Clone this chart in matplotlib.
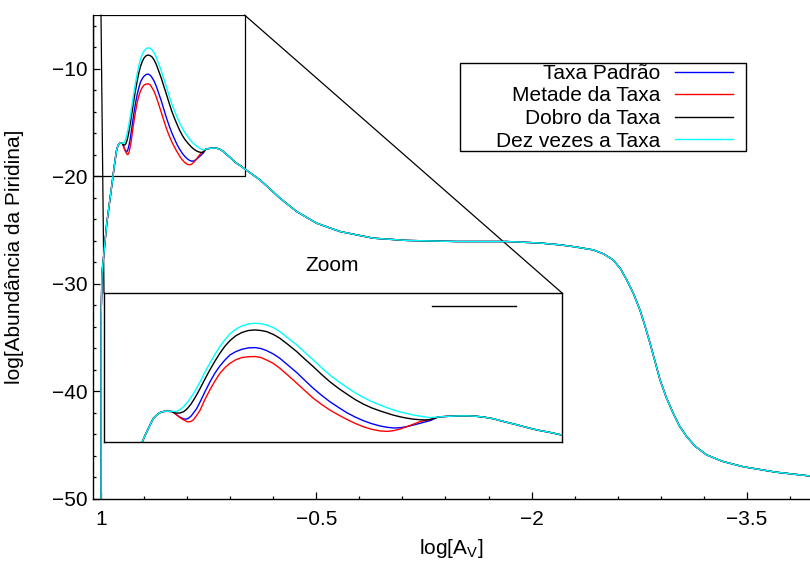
import matplotlib
matplotlib.use("Agg")
import numpy as np
import matplotlib.pyplot as plt
from matplotlib.ticker import MultipleLocator, FixedLocator
from matplotlib.lines import Line2D
from matplotlib.patches import Rectangle, ConnectionPatch
from matplotlib.path import Path

# trecho comum do inicio (subida em Av alto)
x_inicio = [1.0, 0.999, 0.993, 0.96, 0.9165, 0.910, 0.903, 0.897, 0.892, 0.885,
            0.878, 0.870, 0.863]
y_inicio = [-60.0, -33.0, -29.0, -24.4, -20.0, -19.3, -18.62, -18.05, -17.62, -17.28,
            -17.05, -16.93, -16.91]

# trecho onde as taxas se separam
x_meio = [0.852, 0.846, 0.841, 0.834, 0.826, 0.820, 0.816, 0.810, 0.805, 0.798,
          0.790, 0.780, 0.769, 0.758, 0.747, 0.736, 0.725, 0.712, 0.699, 0.685,
          0.670, 0.657, 0.645, 0.630, 0.616, 0.598, 0.579, 0.561, 0.543, 0.525,
          0.507, 0.488, 0.470, 0.452, 0.434, 0.416, 0.397, 0.382, 0.368, 0.354,
          0.339, 0.325, 0.310, 0.299, 0.288]
y_padrao = [-16.92, -17.10, -17.28, -17.50, -17.68, -17.70, -17.62, -17.40, -17.10, -16.66,
            -15.95, -14.98, -13.98, -13.08, -12.35, -11.75, -11.24, -10.90, -10.67, -10.53,
            -10.50, -10.60, -10.80, -11.15, -11.58, -12.28, -13.02, -13.82, -14.60, -15.30,
            -15.94, -16.52, -17.05, -17.48, -17.85, -18.15, -18.39, -18.52, -18.59, -18.57,
            -18.46, -18.30, -18.12, -17.98, -17.85]
y_metade = [-16.90, -17.08, -17.28, -17.55, -17.78, -17.92, -17.98, -17.93, -17.78, -17.35,
            -16.78, -15.75, -14.77, -13.88, -13.09, -12.52, -12.08, -11.72, -11.50, -11.42,
            -11.40, -11.50, -11.75, -12.10, -12.58, -13.30, -14.09, -14.85, -15.60, -16.22,
            -16.78, -17.28, -17.72, -18.12, -18.46, -18.72, -18.89, -18.93, -18.86, -18.70,
            -18.46, -18.22, -17.95, -17.83, -17.72]
y_dobro = [-16.95, -17.05, -17.10, -17.08, -16.95, -16.72, -16.52, -16.18, -15.82, -15.28,
           -14.60, -13.70, -12.76, -11.88, -11.07, -10.36, -9.80, -9.30, -8.98, -8.78,
           -8.72, -8.78, -8.89, -9.18, -9.56, -10.20, -10.91, -11.68, -12.42, -13.20,
           -13.93, -14.60, -15.17, -15.72, -16.18, -16.56, -16.88, -17.10, -17.30, -17.46,
           -17.60, -17.70, -17.76, -17.78, -17.75]
y_dez = [-16.90, -16.93, -16.92, -16.75, -16.44, -16.12, -15.90, -15.50, -15.15, -14.60,
         -13.93, -13.00, -12.08, -11.20, -10.40, -9.70, -9.12, -8.64, -8.32, -8.12,
         -8.05, -8.10, -8.22, -8.50, -8.89, -9.55, -10.24, -11.00, -11.75, -12.52,
         -13.26, -13.92, -14.50, -15.04, -15.51, -15.92, -16.28, -16.55, -16.78, -16.97,
         -17.13, -17.28, -17.40, -17.48, -17.55]

# trecho comum do final (plato e queda para Av baixo)
x_fim = [0.27, 0.25, 0.23, 0.208, 0.19, 0.17, 0.15, 0.135, 0.115, 0.10, 0.08, 0.063,
         0.045, 0.03, 0.015, 0.0, -0.108, -0.247, -0.363, -0.503, -0.665, -0.897,
         -1.13, -1.478, -1.826, -2.059, -2.198, -2.3, -2.43, -2.5, -2.569, -2.62,
         -2.663, -2.71, -2.755, -2.79, -2.825, -2.86, -2.895, -2.94, -2.987, -3.03,
         -3.081, -3.14, -3.22, -3.33, -3.475, -3.7, -3.94]
y_fim = [-17.48, -17.42, -17.38, -17.37, -17.40, -17.50, -17.66, -17.85, -18.08, -18.25,
         -18.50, -18.70, -18.88, -19.00, -19.15, -19.30, -20.33, -22.03, -23.27, -24.36,
         -25.13, -25.75, -25.96, -26.06, -26.06, -26.2, -26.37, -26.55, -26.84, -27.2,
         -27.77, -28.6, -29.63, -30.9, -32.42, -33.9, -35.5, -37.2, -38.93, -40.6,
         -42.03, -43.2, -44.2, -45.1, -45.9, -46.5, -47.0, -47.5, -47.86]

nomes = ["Taxa Padrão", "Metade da Taxa", "Dobro da Taxa", "Dez vezes a Taxa"]
cores = ["#0000ff", "#ff0000", "#000000", "#00ffff"]
meios = [y_padrao, y_metade, y_dobro, y_dez]

x_ticks = [1, -0.5, -2, -3.5]
x_tick_labels = ["1", "\u22120.5", "\u22122", "\u22123.5"]

# janela do zoom
x_zoom = [1.0, 0.0]
y_zoom = [-20.0, -5.0]


def monta_serie(y_m):
    x = np.array(x_inicio + x_meio + x_fim)
    y = np.array(y_inicio + y_m + y_fim)
    return x, y


def caixa_gnuplot(x0, y0, width, height, mutation_size):
    # moldura da legenda com folga maior a esquerda, estilo gnuplot
    esq = 1.73 * mutation_size
    dire = 0.64 * mutation_size
    vert = 0.02 * mutation_size
    xa, xb = x0 - esq, x0 + width + dire
    ya, yb = y0 - vert, y0 + height + vert
    return Path([(xa, ya), (xb, ya), (xb, yb), (xa, yb), (xa, ya)], closed=True)


plt.rcParams["font.family"] = ["Liberation Sans", "DejaVu Sans"]
plt.rcParams["mathtext.fontset"] = "custom"
plt.rcParams["mathtext.rm"] = "Liberation Sans"
plt.rcParams["mathtext.it"] = "Liberation Sans:italic"

fig = plt.figure(figsize=(8.1, 5.63), dpi=100)
ax = fig.add_axes([93 / 810, 64 / 563, 717 / 810, 484 / 563])

for nome, cor, y_m in zip(nomes, cores, meios):
    x, y = monta_serie(y_m)
    ax.plot(x, y, color=cor, lw=1.0, label=nome)

ax.set_xlim(1.0557, -3.94)
ax.set_ylim(-50, -5)
ax.spines["top"].set_visible(False)
ax.spines["right"].set_visible(False)
for s in ("left", "bottom"):
    ax.spines[s].set_linewidth(1.0)

ax.set_xticks(x_ticks)
ax.set_xticklabels(x_tick_labels)
ax.xaxis.set_minor_locator(FixedLocator(np.arange(1, -4, -0.3)))
ax.yaxis.set_major_locator(MultipleLocator(10))
ax.yaxis.set_minor_locator(MultipleLocator(2))
ax.tick_params(which="both", direction="in", width=0.9, labelsize=15)
ax.tick_params(which="major", length=5)
ax.tick_params(which="minor", length=2.5)
ax.tick_params(axis="x", pad=8)
ax.tick_params(axis="y", pad=4)

ax.set_xlabel(r"log[A$_\mathrm{V}$]", fontsize=15, labelpad=6)
ax.set_ylabel("log[Abundância da Piridina]", fontsize=15, labelpad=20)

leg = ax.legend(loc="upper right", bbox_to_anchor=(0.8922, 0.899), borderaxespad=0,
                fontsize=15, markerfirst=False, fancybox=False, framealpha=1,
                edgecolor="black", handlelength=2.77, handletextpad=0.69,
                labelspacing=0.17, borderpad=0)
leg.get_frame().set_linewidth(1.0)
leg.get_frame().set_boxstyle(caixa_gnuplot)

ax.text(-0.607, -28.33, "Zoom", fontsize=15, ha="center", va="center")

# janela ampliada
axins = ax.inset_axes([0.01534, 0.1178, 0.6388, 0.3079])
for cor, y_m in zip(cores, meios):
    x, y = monta_serie(y_m)
    axins.plot(x, y, color=cor, lw=1.0)
axins.set_xlim(x_zoom)
axins.set_ylim(y_zoom)
axins.set_xticks([])
axins.set_yticks([])
for s in axins.spines.values():
    s.set_linewidth(1.0)
axins.legend(handles=[Line2D([], [], color="black", lw=1.0)], labels=[""],
             loc="center", bbox_to_anchor=(0.808, 0.90), frameon=False,
             fontsize=15, handlelength=4.03, handletextpad=0, borderpad=0)

# retangulo da regiao ampliada e linhas de ligacao
x_esq = ax.get_xlim()[0]
ax.add_patch(Rectangle((x_esq, y_zoom[0]), x_zoom[1] - x_esq, y_zoom[1] - y_zoom[0],
                       fill=False, ec="black", lw=0.9))
for xc in x_zoom:
    ax.add_artist(ConnectionPatch(xyA=(xc, y_zoom[1]), coordsA="data", axesA=ax,
                                  xyB=(xc, y_zoom[1]), coordsB="data", axesB=axins,
                                  color="black", lw=0.9))

fig.savefig("out.png", dpi=100)
